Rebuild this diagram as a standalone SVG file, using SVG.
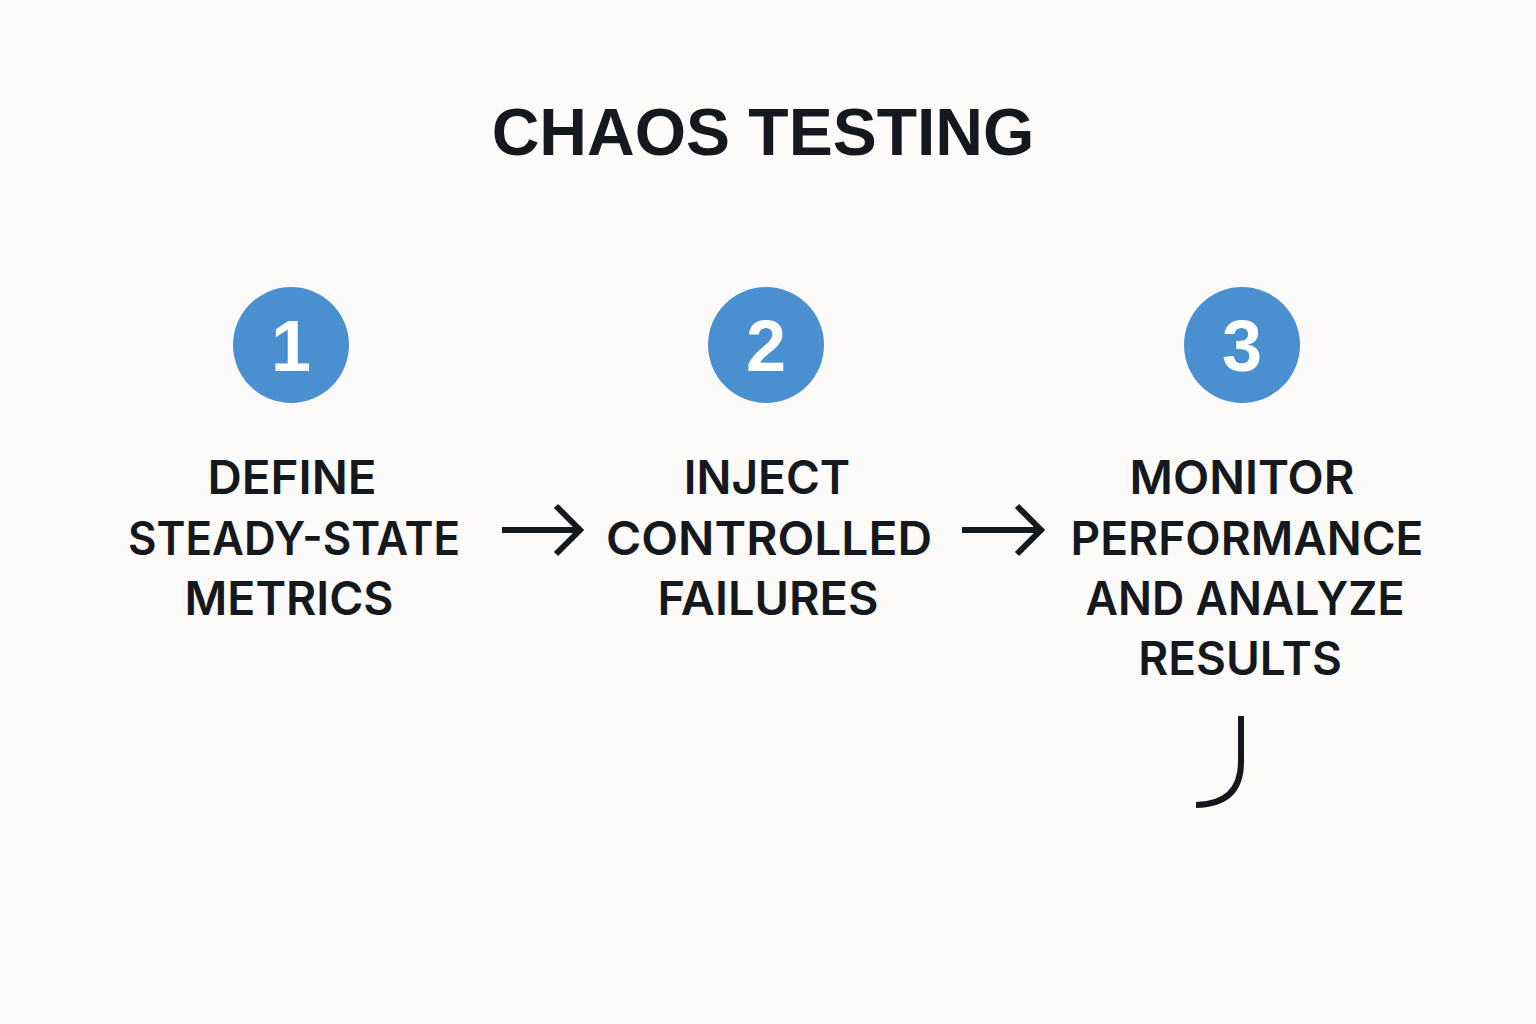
<svg xmlns="http://www.w3.org/2000/svg" width="1536" height="1024" viewBox="0 0 1536 1024">
<style>
.title{font-family:"Liberation Sans",Arial,sans-serif;font-weight:700;font-size:66px;fill:#15191d;text-anchor:middle}
.label{font-family:Inter,"Liberation Sans",sans-serif;font-weight:600;font-size:46px;fill:#15191d;text-anchor:middle}
.num{font-family:"Liberation Sans",Arial,sans-serif;font-weight:700;font-size:72px;fill:#ffffff;text-anchor:middle}
.circ{fill:#4a90d0}
.conn{fill:none;stroke:#15191d;stroke-width:6}
</style>
<rect width="1536" height="1024" fill="#fcfbf9"/>
<text class="title" x="763" y="155">CHAOS TESTING</text>
<g id="step1">
<circle class="circ" cx="291" cy="345" r="58"/>
<text class="num" x="291" y="371">1</text>
<text class="label" x="292" y="494" textLength="169" lengthAdjust="spacingAndGlyphs">DEFINE</text>
<text class="label" x="294" y="555" textLength="332" lengthAdjust="spacingAndGlyphs">STEADY-STATE</text>
<text class="label" x="289" y="615" textLength="209" lengthAdjust="spacingAndGlyphs">METRICS</text>
</g>
<g id="step2">
<circle class="circ" cx="766" cy="345" r="58"/>
<text class="num" x="766" y="371">2</text>
<text class="label" x="767" y="494">INJECT</text>
<text class="label" x="769" y="555" textLength="326" lengthAdjust="spacingAndGlyphs">CONTROLLED</text>
<text class="label" x="768" y="615" textLength="221" lengthAdjust="spacingAndGlyphs">FAILURES</text>
</g>
<g id="step3">
<circle class="circ" cx="1242" cy="345" r="58"/>
<text class="num" x="1242" y="371">3</text>
<text class="label" x="1242" y="494" textLength="225" lengthAdjust="spacingAndGlyphs">MONITOR</text>
<text class="label" x="1247" y="555" textLength="353" lengthAdjust="spacingAndGlyphs">PERFORMANCE</text>
<text class="label" x="1245" y="615" textLength="319" lengthAdjust="spacingAndGlyphs">AND ANALYZE</text>
<text class="label" x="1240" y="675">RESULTS</text>
</g>
<g id="connectors">
<path class="conn" d="M502 530 H578 M556 506 L580 530 L556 554"/>
<path class="conn" d="M962 530 H1039 M1017 506 L1041 530 L1017 554"/>
<path class="conn" d="M1241 716 V762 Q1241 804 1196 805"/>
</g>
</svg>
